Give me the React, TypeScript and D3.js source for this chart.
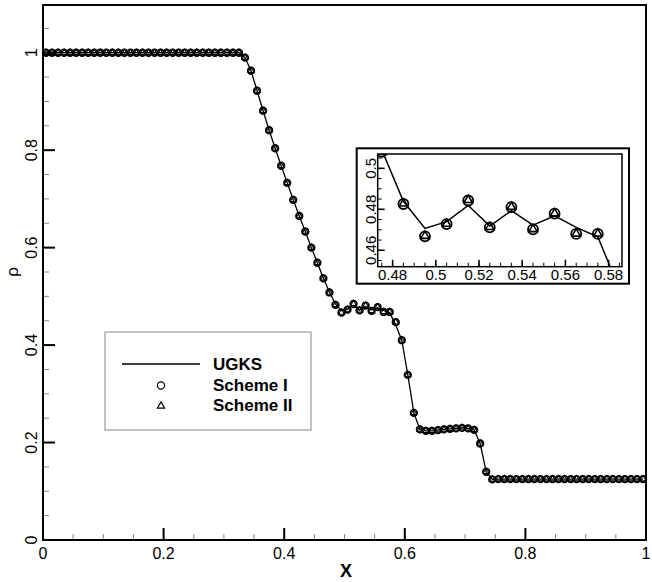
import React from "react";
import * as d3 from "d3";

// cell centres of the uniform 100-cell mesh on [0, 1]
const cellX = d3.range(100).map((i) => 0.005 + 0.01 * i);

// density, one value per cell
const schemeI = [
  1, 1, 1, 1, 1, 1, 1, 1, 1, 1, 1, 1, 1, 1, 1, 1, 1, 1, 1, 1, 1, 1, 1, 1, 1, 1, 1, 1, 1, 1, 1, 1, 1,
  0.99, 0.963, 0.922, 0.881, 0.841, 0.804, 0.768, 0.733, 0.698, 0.665, 0.633, 0.6, 0.569, 0.537,
  0.508, 0.4826, 0.4668, 0.4728, 0.4843, 0.4712, 0.4811, 0.4702, 0.4779, 0.468, 0.468,
  0.447, 0.41, 0.339, 0.261, 0.227, 0.224, 0.224, 0.2255, 0.227, 0.228, 0.229, 0.23, 0.229, 0.226,
  0.198, 0.14, 0.1245,
  0.125, 0.125, 0.125, 0.125, 0.125, 0.125, 0.125, 0.125, 0.125, 0.125, 0.125, 0.125, 0.125,
  0.125, 0.125, 0.125, 0.125, 0.125, 0.125, 0.125, 0.125, 0.125, 0.125, 0.125, 0.125,
];
const schemeII = [
  1, 1, 1, 1, 1, 1, 1, 1, 1, 1, 1, 1, 1, 1, 1, 1, 1, 1, 1, 1, 1, 1, 1, 1, 1, 1, 1, 1, 1, 1, 1, 1, 1,
  0.99, 0.963, 0.922, 0.881, 0.841, 0.804, 0.768, 0.733, 0.698, 0.665, 0.633, 0.6, 0.569, 0.537,
  0.508, 0.4828, 0.467, 0.4729, 0.4845, 0.4713, 0.4812, 0.4703, 0.478, 0.4681, 0.4681,
  0.447, 0.41, 0.339, 0.261, 0.227, 0.224, 0.224, 0.2255, 0.227, 0.228, 0.229, 0.23, 0.229, 0.226,
  0.198, 0.14, 0.1245,
  0.125, 0.125, 0.125, 0.125, 0.125, 0.125, 0.125, 0.125, 0.125, 0.125, 0.125, 0.125, 0.125,
  0.125, 0.125, 0.125, 0.125, 0.125, 0.125, 0.125, 0.125, 0.125, 0.125, 0.125, 0.125,
];
const ugks = [
  1, 1, 1, 1, 1, 1, 1, 1, 1, 1, 1, 1, 1, 1, 1, 1, 1, 1, 1, 1, 1, 1, 1, 1, 1, 1, 1, 1, 1, 1, 1, 1, 1,
  0.99, 0.963, 0.922, 0.881, 0.841, 0.804, 0.768, 0.733, 0.698, 0.665, 0.633, 0.6, 0.569, 0.537,
  0.509, 0.4839, 0.4707, 0.474, 0.4819, 0.4718, 0.4794, 0.4723, 0.4768, 0.4712, 0.4666,
  0.441, 0.41, 0.339, 0.261, 0.227, 0.224, 0.224, 0.2255, 0.227, 0.228, 0.229, 0.23, 0.229, 0.226,
  0.198, 0.14, 0.1245,
  0.125, 0.125, 0.125, 0.125, 0.125, 0.125, 0.125, 0.125, 0.125, 0.125, 0.125, 0.125, 0.125,
  0.125, 0.125, 0.125, 0.125, 0.125, 0.125, 0.125, 0.125, 0.125, 0.125, 0.125, 0.125,
];

const xTicks = [0, 0.2, 0.4, 0.6, 0.8, 1];
const yTicks = [0, 0.2, 0.4, 0.6, 0.8, 1];
const insetXTicks = [0.48, 0.5, 0.52, 0.54, 0.56, 0.58];
const insetYTicks = [0.46, 0.48, 0.5];
const legendNames = ["UGKS", "Scheme I", "Scheme II"];

const FONT = "'Liberation Sans', Arial, Helvetica, sans-serif";
const fmt = (v: number) => String(+v.toFixed(3));

export default function App() {
  //scales
  const x = d3.scaleLinear().domain([0, 1]).range([43, 646]);
  const y = d3.scaleLinear().domain([0, 1.1]).range([540, 4]);
  const xi = d3.scaleLinear().domain([0.4731, 0.5862]).range([377.7, 622]);
  const yi = d3.scaleLinear().domain([0.452, 0.507]).range([266.7, 154]);

  const xMinor = d3.range(0, 21).map((i) => i * 0.05);
  const yMinor = d3.range(0, 22).map((i) => i * 0.05);
  const xiMinor = d3.range(0, 23).map((i) => 0.475 + i * 0.005);
  const yiMinor = d3.range(0, 11).map((i) => 0.455 + i * 0.005);

  const pts = (vals: number[]) => cellX.map((cx, i) => [cx, vals[i]] as [number, number]);

  const mainLine = d3
    .line<[number, number]>()
    .x((d) => x(d[0]))
    .y((d) => y(d[1]));
  const insetLine = d3
    .line<[number, number]>()
    .x((d) => xi(d[0]))
    .y((d) => yi(d[1]));

  const triSmall = d3.symbol(d3.symbolTriangle, 16)()!;
  const triBig = d3.symbol(d3.symbolTriangle, 30)()!;

  const insetIdx = cellX
    .map((cx, i) => i)
    .filter((i) => cellX[i] > 0.474 && cellX[i] < 0.58);

  return (
    <svg
      width={652}
      height={582}
      style={{ position: "absolute", left: 0, top: 0, background: "#fff" }}
      fontFamily={FONT}
    >
      <defs>
        <clipPath id="mainClip">
          <rect x={43} y={5} width={603} height={535} />
        </clipPath>
        <clipPath id="insetClip">
          <rect x={377.7} y={154} width={244.3} height={112.7} />
        </clipPath>
      </defs>

      {/* main ticks */}
      {xMinor.map((v) => (
        <line key={"xm" + v} x1={x(v)} x2={x(v)} y1={540} y2={534} stroke="#888" strokeWidth={1} />
      ))}
      {yMinor.map((v) => (
        <line key={"ym" + v} x1={43} x2={49} y1={y(v)} y2={y(v)} stroke="#888" strokeWidth={1} />
      ))}
      {xTicks.map((v) => (
        <g key={"xt" + v}>
          <line x1={x(v)} x2={x(v)} y1={540} y2={528} stroke="#000" strokeWidth={2} />
          <text x={x(v)} y={559} textAnchor="middle" fontSize={16}>
            {fmt(v)}
          </text>
        </g>
      ))}
      {yTicks.map((v) => (
        <g key={"yt" + v}>
          <line x1={43} x2={55} y1={y(v)} y2={y(v)} stroke="#000" strokeWidth={2} />
          <text
            transform={`translate(37,${y(v)}) rotate(-90)`}
            textAnchor="middle"
            fontSize={16}
          >
            {fmt(v)}
          </text>
        </g>
      ))}

      {/* main data */}
      <g clipPath="url(#mainClip)">
        <path d={mainLine(pts(ugks)) || ""} fill="none" stroke="#000" strokeWidth={1.3} />
        {pts(schemeI).map((d, i) => (
          <circle key={"c" + i} cx={x(d[0])} cy={y(d[1])} r={3.3} fill="none" stroke="#000" strokeWidth={1.7} />
        ))}
        {pts(schemeII).map((d, i) => (
          <path
            key={"t" + i}
            d={triSmall}
            transform={`translate(${x(d[0])},${y(d[1])})`}
            fill="none"
            stroke="#000"
            strokeWidth={1.1}
          />
        ))}
      </g>

      <rect x={43} y={5} width={603} height={535} fill="none" stroke="#000" strokeWidth={2} />

      {/* axis titles */}
      <text x={346} y={577} textAnchor="middle" fontSize={18} fontWeight="bold">
        X
      </text>
      <text transform="translate(18,272) rotate(-90)" textAnchor="middle" fontSize={17}>
        ρ
      </text>

      {/* legend */}
      <rect x={105} y={332} width={206} height={98} fill="#fff" stroke="#888" strokeWidth={1} />
      <line x1={122} x2={200} y1={364} y2={364} stroke="#000" strokeWidth={1.5} />
      <circle cx={161} cy={385.5} r={3.6} fill="none" stroke="#000" strokeWidth={1.2} />
      <path
        d={d3.symbol(d3.symbolTriangle, 22)()!}
        transform="translate(161,406)"
        fill="none"
        stroke="#000"
        strokeWidth={1.2}
      />
      {legendNames.map((n, i) => (
        <text key={n} x={213} y={370 + i * 20.5} fontSize={17} fontWeight="bold">
          {n}
        </text>
      ))}

      {/* inset */}
      <rect x={356.7} y={148.3} width={272.3} height={135.4} fill="#fff" stroke="#000" strokeWidth={2} />
      {xiMinor.map((v) => (
        <line key={"xim" + v} x1={xi(v)} x2={xi(v)} y1={266.7} y2={262.7} stroke="#000" strokeWidth={1} />
      ))}
      {yiMinor.map((v) => (
        <line key={"yim" + v} x1={377.7} x2={381.7} y1={yi(v)} y2={yi(v)} stroke="#000" strokeWidth={1} />
      ))}
      {insetXTicks.map((v) => (
        <g key={"xit" + v}>
          <line x1={xi(v)} x2={xi(v)} y1={266.7} y2={259.7} stroke="#000" strokeWidth={1.5} />
          <text x={xi(v)} y={280} textAnchor="middle" fontSize={15}>
            {fmt(v)}
          </text>
        </g>
      ))}
      {insetYTicks.map((v) => (
        <g key={"yit" + v}>
          <line x1={377.7} x2={384.7} y1={yi(v)} y2={yi(v)} stroke="#000" strokeWidth={1.5} />
          <text
            transform={`translate(376,${yi(v)}) rotate(-90)`}
            textAnchor="middle"
            fontSize={15}
          >
            {fmt(v)}
          </text>
        </g>
      ))}
      <g clipPath="url(#insetClip)">
        <path d={insetLine(pts(ugks)) || ""} fill="none" stroke="#000" strokeWidth={1.5} />
        {insetIdx.map((i) => (
          <circle
            key={"ic" + i}
            cx={xi(cellX[i])}
            cy={yi(schemeI[i])}
            r={5}
            fill="none"
            stroke="#000"
            strokeWidth={1.8}
          />
        ))}
        {insetIdx.map((i) => (
          <path
            key={"it" + i}
            d={triBig}
            transform={`translate(${xi(cellX[i])},${yi(schemeII[i])})`}
            fill="none"
            stroke="#000"
            strokeWidth={1.6}
          />
        ))}
      </g>
      <rect x={377.7} y={154} width={244.3} height={112.7} fill="none" stroke="#000" strokeWidth={1.5} />
    </svg>
  );
}
